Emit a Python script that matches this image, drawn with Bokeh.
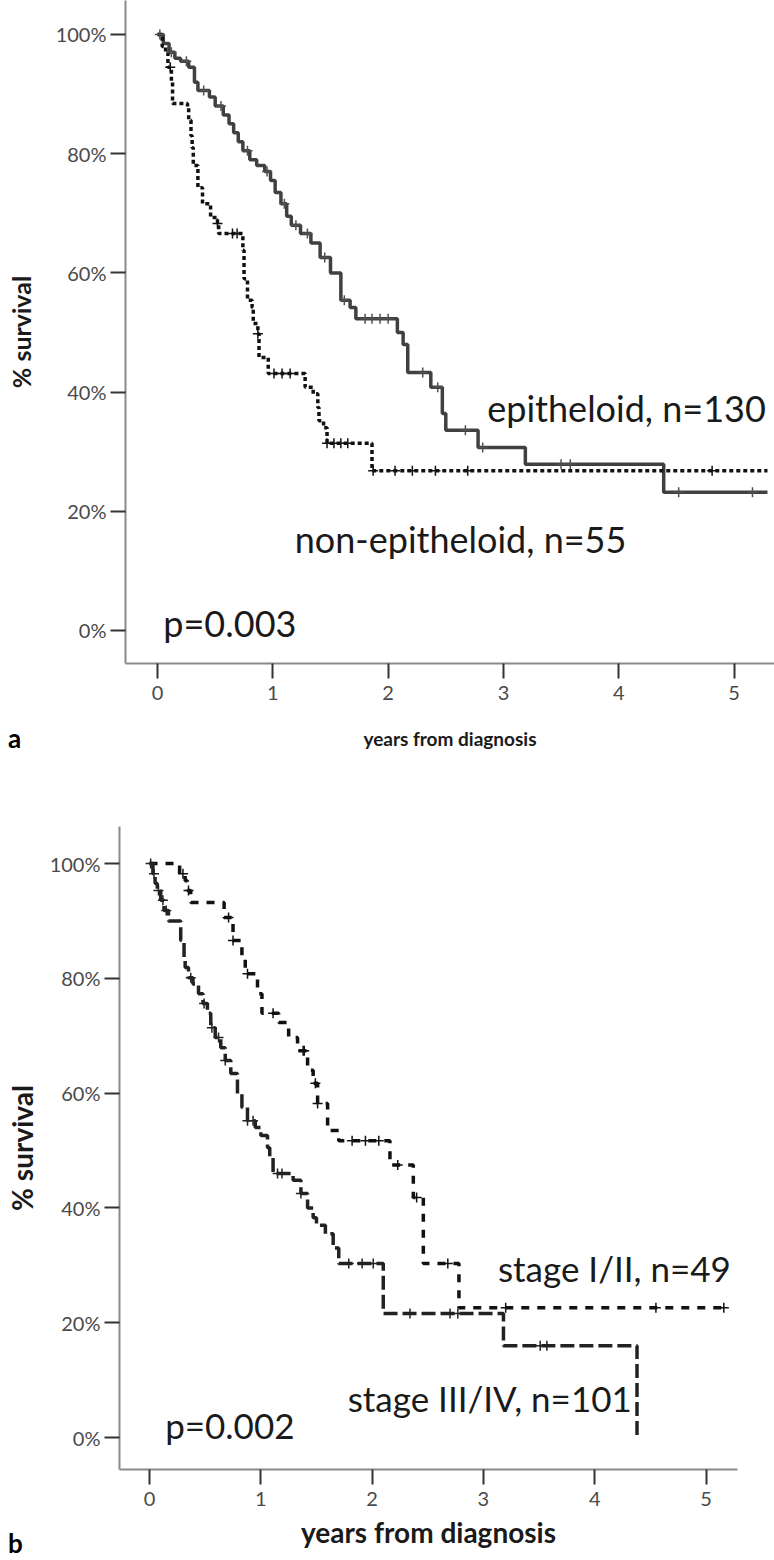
import numpy as np
from bokeh.plotting import figure
from bokeh.models import Label, FixedTicker, Range1d, Div
from bokeh.embed import file_html
from bokeh.resources import INLINE

# ---------------- data ----------------
x_ticks = [0, 1, 2, 3, 4, 5]
y_ticks = [0, 20, 40, 60, 80, 100]
y_tick_labels = ["0%", "20%", "40%", "60%", "80%", "100%"]

# panel a: epitheloid (solid) and non-epitheloid (dotted)
epi_t = [0, 0.05, 0.10, 0.15, 0.20, 0.27, 0.32, 0.35, 0.45, 0.50, 0.57, 0.62, 0.66, 0.70, 0.74,
         0.80, 0.86, 0.93, 0.98, 1.02, 1.07, 1.12, 1.16, 1.24, 1.33, 1.41, 1.50, 1.59, 1.67, 1.72,
         2.08, 2.13, 2.17, 2.37, 2.47, 2.50, 2.78, 3.19, 4.39, 5.29]
epi_s = [100, 98.5, 97, 96, 95.5, 94.5, 92, 90.6, 89.5, 88, 86.5, 85, 83.5, 82, 80.5,
         79, 78, 77, 75.5, 73.5, 71.6, 69.5, 68, 66.6, 65, 62.6, 60, 55.4, 54.2, 52.3,
         50, 48, 43.3, 40.8, 36.4, 33.6, 30.7, 27.9, 23.2, 23.2]
epi_cens = [0.02, 0.12, 0.25, 0.40, 0.55, 0.78, 0.95, 1.10, 1.20, 1.30, 1.45, 1.62, 1.80, 1.86,
            1.93, 2.00, 2.30, 2.43, 2.67, 2.82, 3.50, 3.58, 4.52, 5.16]

nep_t = [0, 0.04, 0.07, 0.09, 0.12, 0.13, 0.26, 0.27, 0.29, 0.30, 0.31, 0.35, 0.39, 0.46, 0.52,
         0.53, 0.74, 0.75, 0.78, 0.82, 0.83, 0.87, 0.88, 0.96, 1.28, 1.35, 1.39, 1.40, 1.44, 1.47,
         1.86, 5.29]
nep_s = [100, 98, 96.8, 94.5, 92, 88.4, 87.8, 85.6, 83, 81, 78, 74.3, 71.6, 69.3, 68.3,
         66.6, 63.8, 59, 55.4, 54.2, 51.5, 49.8, 45.8, 43.1, 40.8, 39.7, 37.4, 35.2, 34, 31.4,
         26.8, 26.8]
nep_cens = [0.11, 0.52, 0.65, 0.69, 0.87, 1.01, 1.08, 1.15, 1.47, 1.53, 1.59, 1.65, 1.87, 2.06,
            2.21, 2.41, 2.69, 4.81]

# panel b: stage I/II and stage III/IV
s12_t = [0, 0.27, 0.32, 0.34, 0.37, 0.67, 0.75, 0.83, 0.86, 0.97, 1.01, 1.16, 1.25, 1.33, 1.42,
         1.47, 1.51, 1.60, 1.70, 2.16, 2.37, 2.46, 2.78, 5.17]
s12_s = [100, 98.2, 97, 95.3, 93.2, 90.6, 86.6, 83.6, 80.8, 77.3, 73.9, 72.3, 69.7, 67.4, 64,
         61.7, 58.2, 53.5, 51.7, 47.5, 41.8, 30.3, 22.6, 22.6]
s12_cens = [0.30, 0.35, 0.71, 0.75, 0.88, 1.11, 1.38, 1.39, 1.49, 1.51, 1.82, 1.94, 2.06, 2.23,
            2.40, 2.68, 3.20, 4.55, 5.16]

s34_t = [0, 0.03, 0.05, 0.07, 0.10, 0.13, 0.17, 0.28, 0.31, 0.32, 0.35, 0.39, 0.44, 0.48, 0.52,
         0.55, 0.59, 0.64, 0.68, 0.73, 0.79, 0.83, 0.88, 0.95, 1.00, 1.06, 1.08, 1.11, 1.29, 1.36,
         1.42, 1.47, 1.50, 1.58, 1.65, 1.70, 2.10, 3.18, 4.38]
s34_s = [100, 98.2, 96.5, 95.3, 93.6, 91.8, 90, 86.6, 83.6, 81.9, 80.1, 79, 77.3, 75.6, 73.9,
         71.4, 69.7, 67.9, 65.7, 63.4, 59.9, 57.5, 55.2, 54, 52.6, 50.5, 48.8, 46, 44.8, 42.5,
         40, 38.3, 37, 35.5, 33, 30.3, 21.6, 16, 0]
s34_cens = [0.01, 0.04, 0.08, 0.12, 0.15, 0.37, 0.49, 0.56, 0.62, 0.68, 0.88, 0.93, 1.15, 1.19,
            1.36, 1.79, 1.91, 2.01, 2.34, 2.70, 2.77, 3.51, 3.57]

FONT = "Lato"


def km_y(t, s, c):
    idx = np.searchsorted(np.asarray(t), np.asarray(c), side="right") - 1
    return np.asarray(s)[idx]


def make_fig(width, height, xr, yr, left, right, top, bottom,
             ylab_standoff, xlab_standoff, ytitle_size, xtitle_size):
    p = figure(width=width, height=height, x_range=Range1d(*xr), y_range=Range1d(*yr),
               output_backend="svg", toolbar_location=None,
               min_border_left=left, min_border_right=right,
               min_border_top=top, min_border_bottom=bottom)
    p.outline_line_color = None
    p.xgrid.visible = False
    p.ygrid.visible = False
    p.xaxis.ticker = FixedTicker(ticks=x_ticks)
    p.yaxis.ticker = FixedTicker(ticks=y_ticks)
    p.yaxis.major_label_overrides = dict(zip(y_ticks, y_tick_labels))
    for ax in (p.xaxis[0], p.yaxis[0]):
        ax.axis_line_color = "#8a8a8a"
        ax.axis_line_width = 2
        ax.major_tick_line_color = "#333333"
        ax.major_tick_line_width = 2
        ax.major_tick_out = 15
        ax.major_tick_in = 0
        ax.minor_tick_line_color = None
        ax.major_label_text_font = FONT
        ax.major_label_text_font_size = "20px"
        ax.major_label_text_color = "#4a4a4a"
        ax.axis_label_text_font = FONT
        ax.axis_label_text_font_style = "bold"
        ax.axis_label_text_color = "#1a1a1a"
    p.yaxis.axis_label_text_font_size = ytitle_size
    p.xaxis.axis_label_text_font_size = xtitle_size
    p.yaxis.major_label_standoff = 4
    p.xaxis.major_label_standoff = 7
    p.yaxis.axis_label = "% survival"
    p.xaxis.axis_label = "years from diagnosis"
    p.yaxis.axis_label_standoff = ylab_standoff
    p.xaxis.axis_label_standoff = xlab_standoff
    return p


def add_label(p, x, y, text, size="36px"):
    p.add_layout(Label(x=x, y=y, text=text, text_font=FONT, text_font_size=size,
                       text_color="#1a1a1a", text_baseline="alphabetic", text_align="left"))


def panel_letter(text, left, top):
    return Div(text=text, width=20, height=28,
               styles={"position": "absolute", "left": f"{left}px", "top": f"{top}px",
                       "font-family": FONT, "font-weight": "bold", "font-size": "26px",
                       "line-height": "1", "color": "#000000", "margin": "0", "padding": "0"})


# ---------------- panel a ----------------
p1 = make_fig(774, 760, (-0.278, 5.351), (-5.54, 105.7), 125, 0, 0, 97, 17, 24, "25px", "19px")
p1.step(epi_t, epi_s, mode="after", line_color="#404040", line_width=3.5)
p1.step(nep_t, nep_s, mode="after", line_color="#111111", line_width=3.5, line_dash="4 3")
p1.scatter(epi_cens, km_y(epi_t, epi_s, epi_cens), marker="cross", size=10,
           line_color="#505050", line_width=1.5)
p1.scatter(nep_cens, km_y(nep_t, nep_s, nep_cens), marker="cross", size=10,
           line_color="#111111", line_width=1.5)
add_label(p1, 2.86, 37.4, "epitheloid, n=130")
add_label(p1, 1.19, 15.4, "non-epitheloid, n=55")
add_label(p1, 0.05, 1.2, "p=0.003")

# ---------------- panel b ----------------
p2 = make_fig(774, 800, (-0.27, 5.283), (-5.57, 106.45), 119, 37, 66, 91, 8, 6, "28px", "28px")
p2.step(s12_t, s12_s, mode="after", line_color="#111111", line_width=3.5, line_dash="8 8")
p2.step(s34_t, s34_s, mode="after", line_color="#222222", line_width=3.5, line_dash="14 5")
p2.scatter(s12_cens, km_y(s12_t, s12_s, s12_cens), marker="cross", size=10,
           line_color="#111111", line_width=1.5)
p2.scatter(s34_cens, km_y(s34_t, s34_s, s34_cens), marker="cross", size=10,
           line_color="#222222", line_width=1.5)
add_label(p2, 3.13, 29.6, "stage I/II, n=49", size="35px")
add_label(p2, 1.78, 6.8, "stage III/IV, n=101", size="35px")
add_label(p2, 0.14, 2.1, "p=0.002", size="35px")

div_a = panel_letter("a", 8, 725)
div_b = panel_letter("b", 8, 1530)

open("out.html", "w").write(file_html([p1, p2, div_a, div_b], INLINE))
